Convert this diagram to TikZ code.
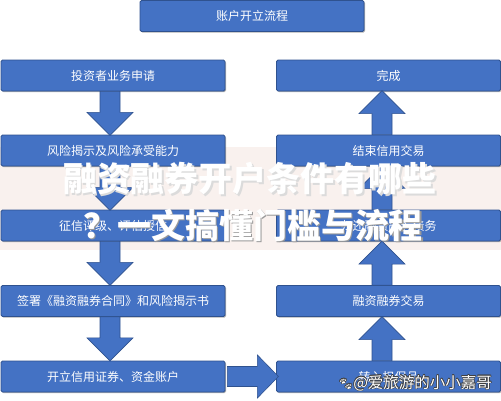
\documentclass[tikz,border=0pt]{standalone}
\usepackage{fontspec}
\newfontfamily\cjk{Noto Sans CJK SC}
\newfontfamily\emo{Noto Emoji}
\usetikzlibrary{shadows,calc}
\definecolor{boxblue}{HTML}{4472C4}
\definecolor{boxedge}{HTML}{2F528F}
\definecolor{bandpink}{HTML}{F9F1EE}
\tikzset{
  flowbox/.style={draw=boxedge, line width=0.8pt, fill=boxblue, rounded corners=1.5pt,
    minimum width=224pt, minimum height=31pt, inner sep=0pt, text=white,
    font=\cjk\fontsize{12}{12}\selectfont,
    drop shadow={shadow xshift=1pt, shadow yshift=-1pt, opacity=0.3, fill=black}},
  blockarrow/.style={draw=boxedge, line width=0.6pt, fill=boxblue, line join=miter},
  titletext/.style={inner sep=0pt, font=\cjk\bfseries\fontsize{34}{34}\selectfont},
  wmfont/.style={inner sep=0pt},
}
\newcommand\arrdown[1]{\draw[blockarrow] #1 ++(-10,0) -- ++(20,0) -- ++(0,21) -- ++(13,0) -- ++(-23,23) -- ++(-23,-23) -- ++(13,0) -- cycle;}
\newcommand\arrup[1]{\draw[blockarrow] #1 ++(-10,0) -- ++(0,-21) -- ++(-13,0) -- ++(23,-23) -- ++(23,23) -- ++(-13,0) -- ++(0,21) -- cycle;}
\newcommand\wmtext{{\emo\fontsize{12}{12}\selectfont 🐾}{\cjk\fontsize{15.5}{15.5}\selectfont @爱旅游的小小嘉哥}}
\begin{document}
\begin{tikzpicture}[x=1pt,y=-1pt]
\useasboundingbox (0,0) rectangle (501,400);
\fill[white] (0,0) rectangle (501,400);
% overlay band behind
\fill[bandpink] (0,147) rectangle (501,250);
% boxes
\node[flowbox] (top) at (252,16) {账户开立流程};
\node[flowbox] (l1) at (113,75.5) {投资者业务申请};
\node[flowbox] (l2) at (113,150.5) {风险揭示及风险承受能力};
\node[flowbox] (l3) at (113,225.5) {征信评级、评估授信};
\node[flowbox] (l4) at (113,301) {签署《融资融券合同》和风险揭示书};
\node[flowbox] (l5) at (113,376.5) {开立信用证券、资金账户};
\node[flowbox] (r1) at (388.5,75.5) {完成};
\node[flowbox] (r2) at (388.5,150.5) {结束信用交易};
\node[flowbox] (r3) at (388.5,225.5) {归还融资融券债务};
\node[flowbox] (r4) at (388.5,301) {融资融券交易};
\node[flowbox] (r5) at (388.5,376.5) {转入担保品};
% down arrows (left column)
\arrdown{($(l1.south)+(-3,0)$)}
\arrdown{($(l2.south)+(-3,0)$)}
\arrdown{($(l3.south)+(-3,0)$)}
\arrdown{($(l4.south)+(-3,0)$)}
% up arrows (right column)
\arrup{($(r2.north)+(-6.5,0)$)}
\arrup{($(r3.north)+(-6.5,0)$)}
\arrup{($(r4.north)+(-6.5,0)$)}
\arrup{($(r5.north)+(-6.5,0)$)}
% horizontal arrow
\draw[blockarrow] ($(l5.east)+(2,0)$) ++(0,-10) -- ++(30,0) -- ++(0,-11.5) -- ++(21,21.5) -- ++(-21,21.5) -- ++(0,-11.5) -- ++(-30,0) -- cycle;
% overlay title
\node[titletext, text=black!14] (t1s) at (251.2,180.2) {融资融券开户条件有哪些};
\node[titletext, text=white] (t1) at (250,179) {融资融券开户条件有哪些};
\node[titletext, text=black!40] (t2s) at (254.3,226.3) {？一文搞懂门槛与流程};
\node[titletext, text=white] (t2) at (253,225) {？一文搞懂门槛与流程};
% watermark
\coordinate (wm) at (415,383);
\foreach \dx/\dy in {-0.6/0,0.6/0,0/-0.6,0/0.6,-0.45/-0.45,0.45/0.45,-0.45/0.45,0.45/-0.45}{
  \node[wmfont, text=black!75] at ($(wm)+(\dx,\dy)$) {\wmtext};
}
\node[wmfont, text=white] (wmt) at (wm) {\wmtext};
\end{tikzpicture}
\end{document}
